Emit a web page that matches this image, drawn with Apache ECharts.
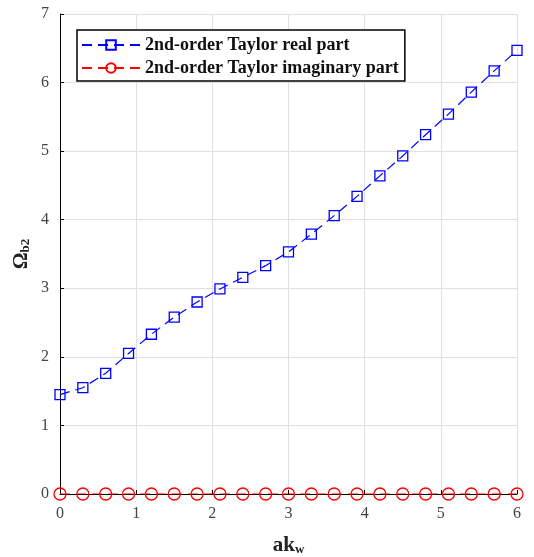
<!DOCTYPE html>
<html lang="en">
<head>
    <meta charset="UTF-8">
    <title>2nd-order Taylor</title>
    <script src="https://cdn.jsdelivr.net/npm/echarts@6/dist/echarts.min.js"></script>
    <style>
        html, body { margin: 0; padding: 0; background: #fff; }
    </style>
</head>
<body>
<div id="my" style="width: 534px;height: 557px;"></div>
<script>
    // x values: ak_w from 0 to 6
    var akw = [0, 0.3, 0.6, 0.9, 1.2, 1.5, 1.8, 2.1, 2.4, 2.7, 3.0, 3.3, 3.6, 3.9, 4.2, 4.5, 4.8, 5.1, 5.4, 5.7, 6.0]
    // real part
    var realPart = [1.45, 1.55, 1.76, 2.05, 2.33, 2.58, 2.80, 2.99, 3.16, 3.33, 3.53, 3.79, 4.06, 4.34, 4.64, 4.93, 5.24, 5.54, 5.86, 6.17, 6.47]
    // imaginary part, flat at zero
    var imagPart = [0, 0, 0, 0, 0, 0, 0, 0, 0, 0, 0, 0, 0, 0, 0, 0, 0, 0, 0, 0, 0]
    var names = ['2nd-order Taylor real part', '2nd-order Taylor imaginary part']

    function pairs(ys) {
        return akw.map(function (x, i) { return [x, ys[i]] })
    }

    var serif = 'Liberation Serif'
    var mCharts = echarts.init(document.getElementById('my'))
    var option = {
        animation: false,
        grid: { left: 60, right: 17, top: 14, bottom: 63, outerBoundsMode: 'none' },
        legend: {
            data: names,
            orient: 'vertical',
            left: 77,
            top: 30,
            itemWidth: 58,
            itemHeight: 12,
            itemGap: 5,
            padding: [6, 6, 4, 4],
            borderColor: '#000',
            borderWidth: 1.5,
            backgroundColor: '#fff',
            textStyle: { fontFamily: serif, fontWeight: 'bold', fontSize: 18, color: '#111' }
        },
        xAxis: {
            type: 'value',
            min: 0, max: 6, interval: 1,
            name: '{a|ak}{s|w}',
            nameLocation: 'middle',
            nameGap: 41,
            nameMoveOverlap: false,
            nameTextStyle: {
                rich: {
                    a: { fontFamily: serif, fontWeight: 'bold', fontSize: 21, color: '#222' },
                    s: { fontFamily: serif, fontWeight: 'bold', fontSize: 13, color: '#222', padding: [8, 0, 0, 0] }
                }
            },
            axisLine: { lineStyle: { color: '#000', width: 1 } },
            axisTick: { inside: true, length: 4, lineStyle: { color: '#000' } },
            axisLabel: { fontFamily: serif, fontSize: 16, color: '#444', margin: 12 },
            splitLine: { show: true, lineStyle: { color: '#e0e0e0' } }
        },
        yAxis: {
            type: 'value',
            min: 0, max: 7, interval: 1,
            name: '{a|Ω}{s|b2}',
            nameLocation: 'middle',
            nameGap: 38,
            nameMoveOverlap: false,
            nameRotate: 90,
            nameTextStyle: {
                align: 'center',
                verticalAlign: 'middle',
                rich: {
                    a: { fontFamily: serif, fontWeight: 'bold', fontSize: 21, color: '#222' },
                    s: { fontFamily: serif, fontWeight: 'bold', fontSize: 13, color: '#222', padding: [8, 0, 0, 0] }
                }
            },
            axisLine: { show: true, lineStyle: { color: '#000', width: 1 } },
            axisTick: { show: true, inside: true, length: 4, lineStyle: { color: '#000' } },
            axisLabel: { fontFamily: serif, fontSize: 16, color: '#444', margin: 11 },
            splitLine: { show: true, lineStyle: { color: '#e0e0e0' } }
        },
        series: [
            {
                name: names[0],
                type: 'line',
                data: pairs(realPart),
                symbol: 'rect',
                symbolSize: 10,
                lineStyle: { color: '#0000ff', width: 1.2, type: [10, 6] },
                itemStyle: { color: 'rgba(0,0,0,0)', borderColor: '#0000ff', borderWidth: 1.3 },
                z: 3
            },
            {
                name: names[1],
                type: 'line',
                data: pairs(imagPart),
                symbol: 'circle',
                symbolSize: 12,
                lineStyle: { color: '#ff0000', width: 1.2, type: [10, 6] },
                itemStyle: { color: 'rgba(0,0,0,0)', borderColor: '#ff0000', borderWidth: 1.3 },
                z: 4
            }
        ]
    }
    mCharts.setOption(option)
</script>
</body>
</html>
